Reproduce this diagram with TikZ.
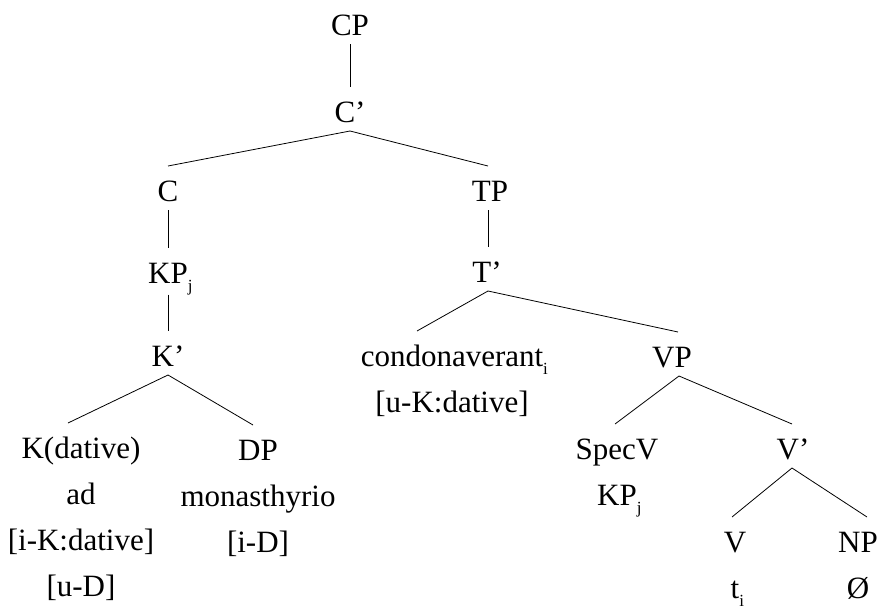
\documentclass[tikz,border=0pt]{standalone}
\usepackage{fontspec}
\setmainfont{Liberation Serif}
\usepackage{tikz}

% subscript index (does not count for centring) and strut for tree labels
\newcommand{\sub}[1]{\rlap{\raisebox{-8pt}{\fontsize{17}{17}\selectfont #1}}}
\newcommand{\lbl}{\rule[-9pt]{0pt}{44pt}}

\begin{document}
\begin{tikzpicture}[x=1pt,y=-1pt,
    cat/.style={font=\fontsize{31}{46}\selectfont, align=center, inner sep=0pt, outer sep=0pt, anchor=north},
    branch/.style={line width=0.8pt}]
        \useasboundingbox (0,0) rectangle (880,608);
        % labels
        \node[cat] (cp) at (350,0) {\lbl CP};
        \node[cat] (cbar) at (350,87) {\lbl C’};
        \node[cat] (c) at (168,166) {\lbl C};
        \node[cat] (tp) at (490,166) {\lbl TP};
        \node[cat] (kp) at (168,248) {\lbl KP\sub{j}};
        \node[cat] (tbar) at (487,247) {\lbl T’};
        \node[cat] (kbar) at (168,331) {\lbl K’};
        \node[cat] (cond) at (452,331) {\lbl condonaverant\sub{i}\\{}[u-K:dative]};
        \node[cat] (vp) at (672,332) {\lbl VP};
        \node[cat] (kdat) at (81,423) {\lbl K(dative)\\ad\\{}[i-K:dative]\\{}[u-D]};
        \node[cat] (dp) at (258,425) {\lbl DP\\monasthyrio\\{}[i-D]};
        \node[cat] (spec) at (617,424) {\lbl SpecV\\KP\sub{j}};
        \node[cat] (vbar) at (793,424) {\lbl V’};
        \node[cat] (v) at (735,517) {\lbl V\\t\sub{i}};
        \node[cat] (np) at (858,517) {\lbl NP\\Ø};
        % branches
        \draw[branch] (cp.south) -- (cbar.north);
        \draw[branch] (cbar.south) -- (c.north);
        \draw[branch] (cbar.south) -- ([xshift=-2pt]tp.north);
        \draw[branch] (c.south) -- (kp.north);
        \draw[branch] (kp.south) -- (kbar.north);
        \draw[branch] ([xshift=-2pt]tp.south) -- ([xshift=1pt]tbar.north);
        \draw[branch] ([xshift=1pt]tbar.south) -- ([xshift=-35pt]cond.north);
        \draw[branch] ([xshift=1pt]tbar.south) -- ([xshift=6pt]vp.north);
        \draw[branch] (kbar.south) -- ([xshift=-13pt]kdat.north);
        \draw[branch] (kbar.south) -- ([xshift=-5pt]dp.north);
        \draw[branch] ([xshift=7pt]vp.south) -- ([xshift=-2pt]spec.north);
        \draw[branch] ([xshift=7pt]vp.south) -- ([xshift=-1pt]vbar.north);
        \draw[branch] ([xshift=-1pt]vbar.south) -- ([xshift=-3pt]v.north);
        \draw[branch] ([xshift=-1pt]vbar.south) -- ([xshift=9pt]np.north);
    \end{tikzpicture}
\end{document}
